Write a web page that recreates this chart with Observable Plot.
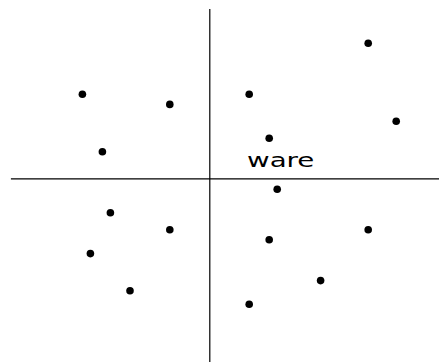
<!DOCTYPE html>
<html>
<head>
<meta charset="utf-8">
<script src="https://cdn.jsdelivr.net/npm/d3@7"></script>
<script src="https://cdn.jsdelivr.net/npm/@observablehq/plot@0.6"></script>
<style>
  html, body { margin: 0; padding: 0; background: #fff; }
  #chart svg { display: block; }
</style>
</head>
<body>
<div id="chart"></div>
<script>
// Point coordinates (arbitrary units, origin at the axis crossing)
const xs = [7.92, -6.37, -2.0, 1.97, 9.32, 2.97, -5.37, 3.37, -4.97, -2.0, 7.92, 2.97, -5.97, 5.54, -3.99, 1.97];
const ys = [6.78, 4.23, 3.72, 4.23, 2.88, 2.03, 1.35, -0.52, -1.7, -2.55, -2.55, -3.05, -3.74, -5.09, -5.6, -6.27];

// Axis line extents
const hAxisX = [-9.92, 11.49];
const vAxisY = [-9.2, 8.47];

// Label
const labels = ["ware"];
const labelX = [1.86];
const labelY = [0.58];

// Domains
const xDomain = [-10.465, 11.485];
const yDomain = [-9.185, 8.915];

const points = xs.map((x, i) => ({x, y: ys[i]}));
const labelData = labels.map((t, i) => ({t, x: labelX[i], y: labelY[i]}));

const chart = Plot.plot({
  width: 439,
  height: 362,
  margin: 0,
  x: {domain: xDomain, axis: null},
  y: {domain: yDomain, axis: null},
  style: {background: "white"},
  marks: [
    Plot.ruleY([0], {x1: hAxisX[0], x2: hAxisX[1], stroke: "black", strokeWidth: 1.2}),
    Plot.ruleX([0], {y1: vAxisY[0], y2: vAxisY[1], stroke: "black", strokeWidth: 1.2}),
    Plot.dot(points, {x: "x", y: "y", r: 3.8, fill: "black", stroke: "none"}),
    Plot.text(labelData, {x: "x", y: "y", text: "t", textAnchor: "start", lineAnchor: "bottom",
      fontSize: 19.5, fontFamily: "DejaVu Sans", fill: "black", className: "ware-label"})
  ]
});
document.getElementById("chart").appendChild(chart);

// stretch the label horizontally like the reference
d3.select(chart).selectAll(".ware-label text").each(function() {
  const t = this.getAttribute("transform") || "";
  this.setAttribute("transform", t + " scale(1.42,1)");
});
</script>
</body>
</html>
